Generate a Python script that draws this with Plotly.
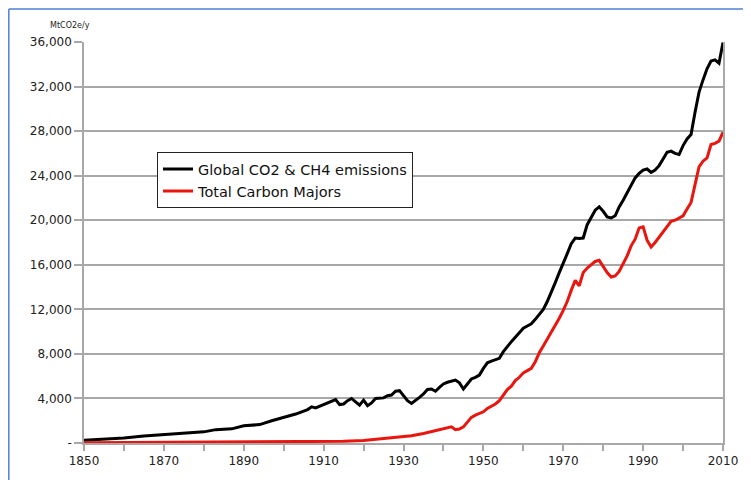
import plotly.graph_objects as go

# Global CO2 & CH4 emissions (MtCO2e/y)
global_years = [1850, 1855, 1860, 1865, 1870, 1875, 1880, 1883, 1887, 1890, 1894, 1897,
                1900, 1903, 1906, 1907, 1908, 1910, 1912, 1913, 1914, 1915, 1916, 1917,
                1918, 1919, 1920, 1921, 1922, 1923, 1925, 1926, 1927, 1928, 1929, 1930,
                1931, 1932, 1933, 1934, 1935, 1936, 1937, 1938, 1939, 1940, 1941, 1942,
                1943, 1944, 1945, 1946, 1947, 1948, 1949, 1950, 1951, 1952, 1953, 1954,
                1955, 1956, 1957, 1958, 1959, 1960, 1961, 1962, 1963, 1964, 1965, 1966,
                1967, 1968, 1969, 1970, 1971, 1972, 1973, 1974, 1975, 1976, 1977, 1978,
                1979, 1980, 1981, 1982, 1983, 1984, 1985, 1986, 1987, 1988, 1989, 1990,
                1991, 1992, 1993, 1994, 1995, 1996, 1997, 1998, 1999, 2000, 2001, 2002,
                2003, 2004, 2005, 2006, 2007, 2008, 2009, 2010]
global_values = [250, 350, 450, 620, 750, 900, 1000, 1200, 1270, 1550, 1650, 2000,
                 2300, 2600, 3000, 3250, 3150, 3450, 3700, 3900, 3450, 3500, 3800, 4000,
                 3700, 3400, 3850, 3350, 3600, 4000, 4050, 4250, 4300, 4650, 4700, 4300,
                 3800, 3550, 3800, 4100, 4400, 4800, 4850, 4650, 5000, 5300, 5450, 5550,
                 5650, 5400, 4850, 5300, 5750, 5900, 6100, 6700, 7200, 7350, 7500, 7600,
                 8200, 8700, 9100, 9500, 9900, 10300, 10500, 10700, 11100, 11500, 12000, 12700,
                 13500, 14400, 15300, 16100, 17000, 17900, 18400, 18350, 18400, 19600, 20300, 20900,
                 21200, 20800, 20300, 20200, 20400, 21200, 21800, 22500, 23100, 23800, 24200, 24500,
                 24600, 24300, 24500, 24900, 25500, 26100, 26200, 26000, 25900, 26700, 27300, 27700,
                 29700, 31500, 32600, 33600, 34300, 34400, 34100, 35950]

# Total Carbon Majors (MtCO2e/y)
majors_years = [1850, 1860, 1870, 1880, 1890, 1900, 1910, 1915, 1920, 1925, 1930, 1932,
                1935, 1938, 1940, 1941, 1942, 1943, 1944, 1945, 1946, 1947, 1948, 1949,
                1950, 1951, 1952, 1953, 1954, 1955, 1956, 1957, 1958, 1959, 1960, 1961,
                1962, 1963, 1964, 1965, 1966, 1967, 1968, 1969, 1970, 1971, 1972, 1973,
                1974, 1975, 1976, 1977, 1978, 1979, 1980, 1981, 1982, 1983, 1984, 1985,
                1986, 1987, 1988, 1989, 1990, 1991, 1992, 1993, 1994, 1995, 1996, 1997,
                1998, 1999, 2000, 2001, 2002, 2003, 2004, 2005, 2006, 2007, 2008, 2009, 2010]
majors_values = [30, 40, 50, 60, 70, 80, 110, 150, 220, 380, 580, 650,
                 850, 1100, 1300, 1400, 1450, 1200, 1250, 1450, 1900, 2300, 2500, 2650,
                 2800, 3100, 3300, 3500, 3800, 4300, 4800, 5100, 5600, 5900, 6300, 6500,
                 6700, 7300, 8100, 8700, 9300, 9900, 10500, 11200, 11900, 12700, 13700, 14600,
                 14100, 15300, 15700, 16000, 16300, 16400, 15800, 15300, 14900, 15000, 15400, 16100,
                 16800, 17700, 18300, 19300, 19400, 18200, 17600, 18000, 18500, 19000, 19500, 19900,
                 20000, 20200, 20400, 21000, 21600, 23200, 24800, 25300, 25600, 26800, 26900, 27100, 27900]

y_tick_vals = [0, 4000, 8000, 12000, 16000, 20000, 24000, 28000, 32000, 36000]
y_tick_text = ["-", "4,000", "8,000", "12,000", "16,000", "20,000", "24,000", "28,000", "32,000", "36,000"]
x_tick_vals = [1850, 1870, 1890, 1910, 1930, 1950, 1970, 1990, 2010]

FONT = "DejaVu Sans"
GRID = "#a8a8a8"

# page offset of the figure (default body margin)
OFF = 8
PL, PR, PT, PB = 84, 723, 42, 446  # plot area in page pixels
PW, PH = PR - PL, PB - PT


def px(xp):
    return (xp - PL) / PW


def py(yp):
    return (PB - yp) / PH


fig = go.Figure()
fig.add_trace(go.Scatter(x=global_years, y=global_values, mode="lines",
                         name="Global CO2 & CH4 emissions",
                         line=dict(color="#000000", width=3)))
fig.add_trace(go.Scatter(x=majors_years, y=majors_values, mode="lines",
                         name="Total Carbon Majors",
                         line=dict(color="#e8160e", width=3)))

fig.update_layout(
    width=751 - OFF, height=480 - OFF,
    margin=dict(l=PL - OFF, r=751 - PR, t=PT - OFF, b=480 - PB),
    paper_bgcolor="white", plot_bgcolor="white",
    font=dict(family=FONT, size=12, color="#222222"),
    showlegend=True,
    legend=dict(x=px(157), y=py(153), xanchor="left", yanchor="top",
                bgcolor="white", bordercolor="#222222", borderwidth=1,
                font=dict(family=FONT, size=14.5, color="#111111"),
                tracegroupgap=0, itemwidth=30),
    xaxis=dict(range=[1850, 2010], tickvals=x_tick_vals, showgrid=False,
               showline=True, linecolor=GRID, linewidth=1.5, mirror=False,
               ticks="outside", ticklen=6, tickcolor=GRID, tickwidth=1.5,
               minor=dict(dtick=10, tick0=1850, ticks="outside", ticklen=6,
                          tickcolor=GRID, tickwidth=1.5, showgrid=False),
               tickfont=dict(family=FONT, size=12, color="#222222"),
               zeroline=False, fixedrange=True),
    yaxis=dict(range=[0, 36000], tickvals=y_tick_vals, ticktext=y_tick_text,
               showgrid=True, gridcolor=GRID, gridwidth=1.5,
               showline=True, linecolor=GRID, linewidth=1.5, mirror=True,
               ticks="outside", ticklen=8, tickcolor=GRID, tickwidth=1.5,
               tickfont=dict(family=FONT, size=12, color="#222222"),
               zeroline=False, fixedrange=True),
)

fig.add_annotation(text="MtCO2e/y", xref="paper", yref="paper",
                   x=px(70), y=py(25), xanchor="center", yanchor="middle",
                   showarrow=False, font=dict(family=FONT, size=8, color="#222222"))

# blue frame (left and top edges)
fx = px(8.8)
fy = py(8.8)
fig.add_shape(type="line", xref="paper", yref="paper", x0=fx, x1=fx,
              y0=py(500), y1=fy, line=dict(color="#4f7fd6", width=1.5))
fig.add_shape(type="line", xref="paper", yref="paper", x0=fx, x1=px(770),
              y0=fy, y1=fy, line=dict(color="#4f7fd6", width=1.5))

fig.write_html("out.html")
